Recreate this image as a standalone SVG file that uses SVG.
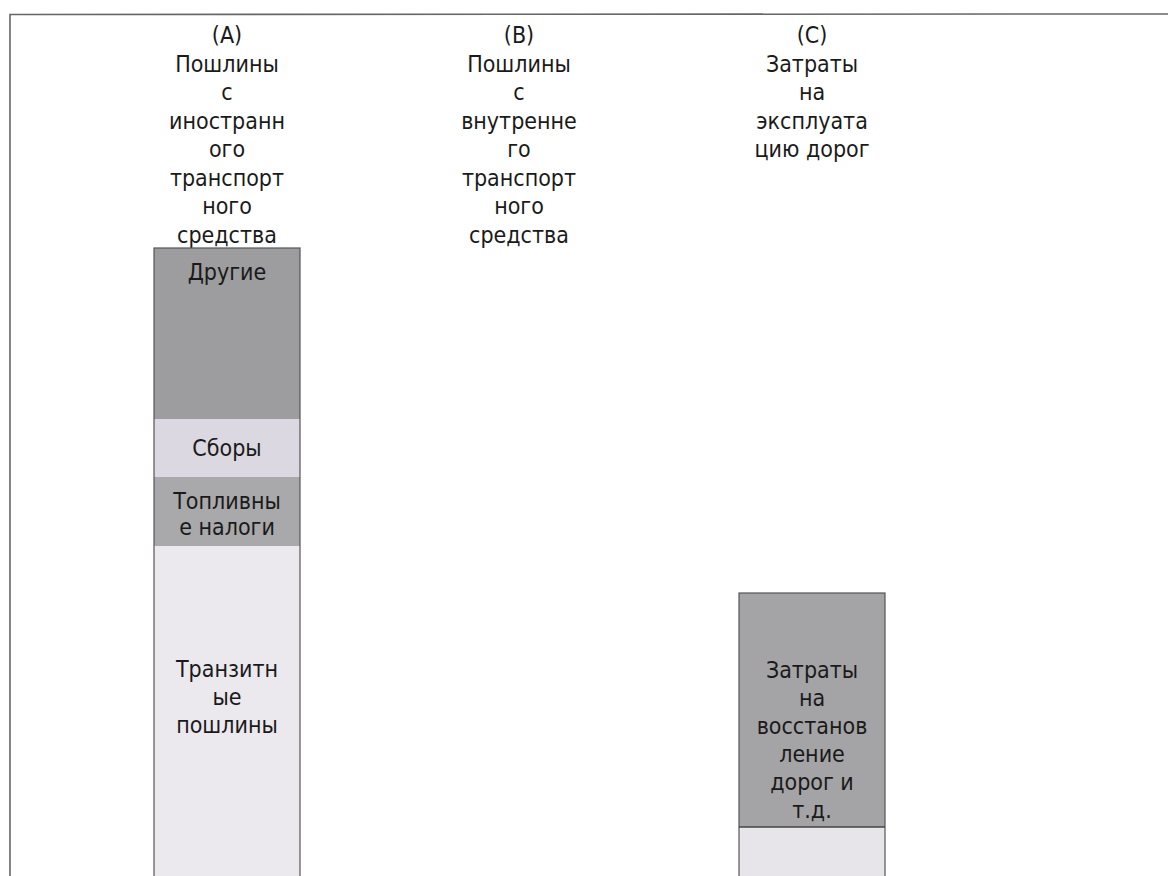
<svg xmlns="http://www.w3.org/2000/svg" width="1168" height="876" viewBox="0 0 1168 876">
  <style>
    text { font-family: "DejaVu Sans Condensed", "DejaVu Sans", sans-serif; font-stretch: condensed; font-size: 23px; fill: #1a1a1a; text-anchor: middle; }
    .seg { stroke: none; }
    .outline { fill: none; stroke: #555; stroke-width: 1.2; }
    .frame { fill: none; stroke: #666; stroke-width: 1.6; }
  </style>
  <rect x="0" y="0" width="1168" height="876" fill="#fff"/>
  <polyline class="frame" points="10,876 10,14.5 1168,14"/>

  <g id="header-A">
    <text x="227" y="43">(A)</text>
    <text x="227" y="71.5">Пошлины</text>
    <text x="227" y="100">с</text>
    <text x="227" y="128.5">иностранн</text>
    <text x="227" y="157">ого</text>
    <text x="227" y="185.5">транспорт</text>
    <text x="227" y="214">ного</text>
    <text x="227" y="242.5">средства</text>
  </g>
  <g id="header-B">
    <text x="519" y="43">(B)</text>
    <text x="519" y="71.5">Пошлины</text>
    <text x="519" y="100">с</text>
    <text x="519" y="128.5">внутренне</text>
    <text x="519" y="157">го</text>
    <text x="519" y="185.5">транспорт</text>
    <text x="519" y="214">ного</text>
    <text x="519" y="242.5">средства</text>
  </g>
  <g id="header-C">
    <text x="812" y="43">(C)</text>
    <text x="812" y="71.5">Затраты</text>
    <text x="812" y="100">на</text>
    <text x="812" y="128.5">эксплуата</text>
    <text x="812" y="157">цию дорог</text>
  </g>

  <g id="bar-A">
    <g id="seg-drugie">
      <rect class="seg" x="154" y="248" width="146" height="171" fill="#9d9c9e"/>
      <text x="227" y="280">Другие</text>
    </g>
    <g id="seg-sbory">
      <rect class="seg" x="154" y="419" width="146" height="58" fill="#dcd8e1"/>
      <text x="227" y="456">Сборы</text>
    </g>
    <g id="seg-toplivnye">
      <rect class="seg" x="154" y="477" width="146" height="69" fill="#a9a8aa"/>
      <text x="227" y="509">Топливны</text>
      <text x="227" y="535">е налоги</text>
    </g>
    <g id="seg-tranzitnye">
      <rect class="seg" x="154" y="546" width="146" height="340" fill="#ebe8ee"/>
      <text x="227" y="677">Транзитн</text>
      <text x="227" y="705">ые</text>
      <text x="227" y="733">пошлины</text>
    </g>
    <rect class="outline" x="154" y="248" width="146" height="640"/>
  </g>

  <g id="bar-C">
    <g id="seg-vosstanovlenie">
      <rect class="seg" x="739" y="593" width="146" height="234" fill="#a4a3a5"/>
      <text x="812" y="678">Затраты</text>
      <text x="812" y="706">на</text>
      <text x="812" y="734">восстанов</text>
      <text x="812" y="762">ление</text>
      <text x="812" y="790">дорог и</text>
      <text x="812" y="818">т.д.</text>
    </g>
    <g id="seg-c-lower">
      <rect class="seg" x="739" y="827" width="146" height="60" fill="#e7e5ea"/>
    </g>
    <rect class="outline" x="739" y="593" width="146" height="295"/>
    <line x1="739" y1="827" x2="885" y2="827" stroke="#444" stroke-width="1.5"/>
  </g>

  <g id="connectors"></g>
</svg>
